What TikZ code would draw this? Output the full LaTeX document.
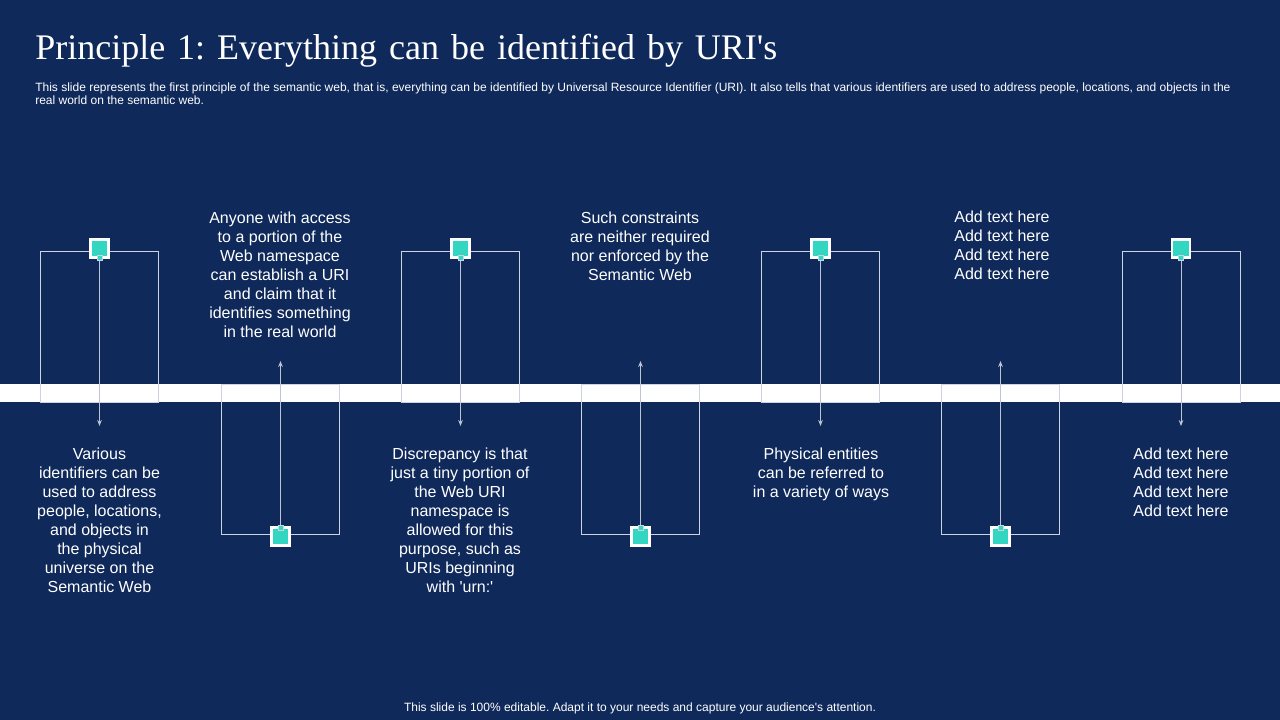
\documentclass[tikz,border=0pt]{standalone}
\usepackage{fontspec}
\setmainfont{Liberation Sans}[Ligatures=TeXOff]
\newfontfamily\titlefont[WordSpace=1.33]{Liberation Serif}
\usetikzlibrary{arrows.meta}
\definecolor{slidebg}{RGB}{15,41,90}
\definecolor{markerteal}{RGB}{51,214,192}
\definecolor{framegrey}{RGB}{205,211,224}
\definecolor{stemgrey}{RGB}{190,196,210}
\tikzset{>={Stealth[length=4.5pt,width=3.5pt]}}
\tikzset{
  frameline/.style={draw=framegrey, line width=0.6pt},
  stemline/.style={draw=stemgrey, line width=0.6pt, ->},
  marker/.style={draw=white, fill=markerteal, line width=2.2pt, minimum size=13.5pt, inner sep=0pt},
  tinymark/.style={draw=framegrey, fill=markerteal, line width=0.5pt, minimum size=3.6pt, inner sep=0pt},
  bodytext/.style={text=white, align=center, font=\fontsize{12}{14.25}\selectfont},
}

\begin{document}
\frenchspacing
\begin{tikzpicture}[x=0.75pt, y=-0.75pt]
\useasboundingbox (0,0) rectangle (1280,720);
\fill[slidebg] (0,0) rectangle (1280,720);

    \node[text=white, anchor=west, inner sep=0pt, font=\fontsize{27}{30}\selectfont\titlefont] (title) at (35,51) {Principle 1: Everything can be identified by URI's};
    \node[text=white, anchor=north west, inner sep=0pt, align=left, font=\fontsize{9}{10.1}\selectfont] (intro) at (35,82.5) {This slide represents the first principle of the semantic web, that is, everything can be identified by Universal Resource Identifier (URI). It also tells that various identifiers are used to address people, locations, and objects in the\\real world on the semantic web.};

    \fill[white] (0,384) rectangle (1280,402);

% % % % % upper frames
    \coordinate (F1a) at (40,251);
    \coordinate (F1b) at (158,402);
    \coordinate (F3a) at (401,251);
    \coordinate (F3b) at (519,402);
    \coordinate (F5a) at (761,251);
    \coordinate (F5b) at (879,402);
    \coordinate (F7a) at (1122,251);
    \coordinate (F7b) at (1240,402);

% % % % % lower frames
    \coordinate (F2a) at (221,384);
    \coordinate (F2b) at (339,534);
    \coordinate (F4a) at (581,384);
    \coordinate (F4b) at (699,534);
    \coordinate (F6a) at (941,384);
    \coordinate (F6b) at (1059,534);

    \draw[frameline] (F1a) rectangle (F1b);
    \draw[frameline] (F2a) rectangle (F2b);
    \draw[frameline] (F3a) rectangle (F3b);
    \draw[frameline] (F4a) rectangle (F4b);
    \draw[frameline] (F5a) rectangle (F5b);
    \draw[frameline] (F6a) rectangle (F6b);
    \draw[frameline] (F7a) rectangle (F7b);

% % % % % markers
    \node[marker] (M1) at (99.5,248.5) {};
    \node[marker] (M2) at (280.5,536.5) {};
    \node[marker] (M3) at (460.5,248.5) {};
    \node[marker] (M4) at (640.5,536.5) {};
    \node[marker] (M5) at (820.5,248.5) {};
    \node[marker] (M6) at (1000.5,536.5) {};
    \node[marker] (M7) at (1181,248.5) {};

    \node[tinymark] (T1) at (99.5,258) {};
    \node[tinymark] (T2) at (280.5,527.5) {};
    \node[tinymark] (T3) at (460.5,258) {};
    \node[tinymark] (T4) at (640.5,527.5) {};
    \node[tinymark] (T5) at (820.5,258) {};
    \node[tinymark] (T6) at (1000.5,527.5) {};
    \node[tinymark] (T7) at (1181,258) {};

    \coordinate (A1) at (99.5,426);
    \coordinate (A2) at (280.5,361);
    \coordinate (A3) at (460.5,426);
    \coordinate (A4) at (640.5,361);
    \coordinate (A5) at (820.5,426);
    \coordinate (A6) at (1000.5,361);
    \coordinate (A7) at (1181,426);

    \draw[stemline] (T1) -- (A1);
    \draw[stemline] (T2) -- (A2);
    \draw[stemline] (T3) -- (A3);
    \draw[stemline] (T4) -- (A4);
    \draw[stemline] (T5) -- (A5);
    \draw[stemline] (T6) -- (A6);
    \draw[stemline] (T7) -- (A7);

% % % % % texts
    \node[bodytext, anchor=north] (L1) at (99.5,443.5) {Various\\identifiers can be\\used to address\\people, locations,\\and objects in\\the physical\\universe on the\\Semantic Web};
    \node[bodytext, anchor=north] (L2) at (280,207.5) {Anyone with access\\to a portion of the\\Web namespace\\can establish a URI\\and claim that it\\identifies something\\in the real world};
    \node[bodytext, anchor=north] (L3) at (460,443.5) {Discrepancy is that\\just a tiny portion of\\the Web URI\\namespace is\\allowed for this\\purpose, such as\\URIs beginning\\with 'urn:'};
    \node[bodytext, anchor=north] (L4) at (640,207.5) {Such constraints\\are neither required\\nor enforced by the\\Semantic Web};
    \node[bodytext, anchor=north] (L5) at (821,443.5) {Physical entities\\can be referred to\\in a variety of ways};
    \node[bodytext, anchor=north] (L6) at (1002,206.5) {Add text here\\Add text here\\Add text here\\Add text here};
    \node[bodytext, anchor=north] (L7) at (1181,443.5) {Add text here\\Add text here\\Add text here\\Add text here};

    \node[text=white, inner sep=0pt, font=\fontsize{9}{11}\selectfont] (foot) at (640,708.5) {This slide is 100\% editable. Adapt it to your needs and capture your audience's attention.};
\end{tikzpicture}
\end{document}
